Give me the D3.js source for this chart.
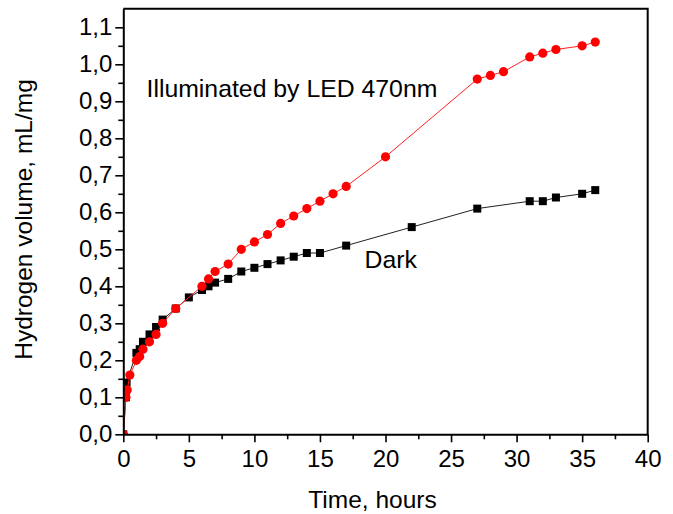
<!DOCTYPE html>
<html>
<head>
<meta charset="utf-8">
<script src="https://cdn.jsdelivr.net/npm/d3@7"></script>
<style>
  html, body { margin: 0; padding: 0; background: #fff; }
  svg { display: block; font-family: "Liberation Sans", Arial, sans-serif; }
</style>
</head>
<body>
<svg id="chart" width="673" height="514"></svg>
<script>
// Hydrogen evolution over time, LED-illuminated vs dark
const litHours  = [0, 0.2, 0.3, 0.5, 1, 1.25, 1.5, 2, 2.5, 3, 4, 6, 6.5, 7, 8, 9, 10, 11, 12, 13, 14, 15, 16, 17, 20, 27, 28, 29, 31, 32, 33, 35, 36];
const litVolume = [0, 0.10, 0.12, 0.16, 0.20, 0.21, 0.23, 0.25, 0.27, 0.30, 0.34, 0.40, 0.42, 0.44, 0.46, 0.50, 0.52, 0.54, 0.57, 0.59, 0.61, 0.63, 0.65, 0.67, 0.75, 0.96, 0.97, 0.98, 1.02, 1.03, 1.04, 1.05, 1.06];

const darkHours  = [0, 0.2, 0.25, 1, 1.25, 1.5, 2, 2.5, 3, 4, 5, 6, 6.5, 7, 8, 9, 10, 11, 12, 13, 14, 15, 17, 22, 27, 31, 32, 33, 35, 36];
const darkVolume = [0, 0.10, 0.14, 0.22, 0.23, 0.25, 0.27, 0.29, 0.31, 0.34, 0.37, 0.39, 0.40, 0.41, 0.42, 0.44, 0.45, 0.46, 0.47, 0.48, 0.49, 0.49, 0.51, 0.56, 0.61, 0.63, 0.63, 0.64, 0.65, 0.66];

const xMajorTicks = [0, 5, 10, 15, 20, 25, 30, 35, 40];
const xMinorTicks = [2.5, 7.5, 12.5, 17.5, 22.5, 27.5, 32.5, 37.5];
const yMajorTicks = [0, 0.1, 0.2, 0.3, 0.4, 0.5, 0.6, 0.7, 0.8, 0.9, 1.0, 1.1];
const yMinorTicks = [0.05, 0.15, 0.25, 0.35, 0.45, 0.55, 0.65, 0.75, 0.85, 0.95, 1.05];

const xTitle = "Time, hours";
const yTitle = "Hydrogen volume, mL/mg";
const litLabel = "Illuminated by LED 470nm";
const darkLabel = "Dark";

const svg = d3.select("#chart");
const plotLeft = 123.3, plotRight = 647.7, plotTop = 8.8, plotBottom = 434.3;

const x = d3.scaleLinear().domain([0, 40]).range([plotLeft, plotRight]);
const y = d3.scaleLinear().domain([0, 1.15]).range([plotBottom, plotTop]);

const fmt = d3.formatLocale({ decimal: ",", thousands: " ", grouping: [3], currency: ["", ""] }).format(".1f");

const lit = litHours.map((t, i) => ({ t, v: litVolume[i] }));
const dark = darkHours.map((t, i) => ({ t, v: darkVolume[i] }));

const line = d3.line().x(d => x(d.t)).y(d => y(d.v));

// Markers are clipped to the plot area
svg.append("defs").append("clipPath").attr("id", "plot-clip")
  .append("rect").attr("x", plotLeft).attr("y", plotTop)
  .attr("width", plotRight - plotLeft).attr("height", plotBottom - plotTop);
const plot = svg.append("g").attr("clip-path", "url(#plot-clip)");

// Dark series: thin line + squares
plot.append("path").datum(dark)
  .attr("d", line).attr("fill", "none")
  .attr("stroke", "#222").attr("stroke-width", 1);
const sq = 8;
plot.append("g").selectAll("rect").data(dark).join("rect")
  .attr("x", d => x(d.t) - sq / 2).attr("y", d => y(d.v) - sq / 2)
  .attr("width", sq).attr("height", sq).attr("fill", "#000");

// Illuminated series: thin red line + circles
plot.append("path").datum(lit)
  .attr("d", line).attr("fill", "none")
  .attr("stroke", "#ff2020").attr("stroke-width", 1);
plot.append("g").selectAll("circle").data(lit).join("circle")
  .attr("cx", d => x(d.t)).attr("cy", d => y(d.v))
  .attr("r", 4.6).attr("fill", "#ff0000");

// Frame (top and right)
svg.append("path")
  .attr("d", `M${plotLeft},${plotTop}H${plotRight}V${plotBottom}`)
  .attr("fill", "none").attr("stroke", "#000").attr("stroke-width", 2);

// X axis
const xAxisG = svg.append("g").attr("transform", `translate(0,${plotBottom})`);
xAxisG.append("g").call(d3.axisBottom(x).tickValues(xMinorTicks).tickSize(5).tickFormat(""))
  .call(g => g.select(".domain").remove());
xAxisG.append("g").call(d3.axisBottom(x).tickValues(xMajorTicks).tickSize(8).tickSizeOuter(0).tickFormat(d3.format("d")))
  .call(g => g.select(".domain").attr("stroke-width", 2))
  .call(g => g.selectAll("text").attr("y", 16).attr("font-size", 24).attr("fill", "#000"));
xAxisG.selectAll("line").attr("stroke", "#000").attr("stroke-width", 1.6);
xAxisG.selectAll("text").attr("font-family", "Liberation Sans, Arial, sans-serif");

// Y axis
const yAxisG = svg.append("g").attr("transform", `translate(${plotLeft},0)`);
yAxisG.append("g").call(d3.axisLeft(y).tickValues(yMinorTicks).tickSize(5).tickFormat(""))
  .call(g => g.select(".domain").remove());
yAxisG.append("g").call(d3.axisLeft(y).tickValues(yMajorTicks).tickSize(8).tickSizeOuter(0).tickFormat(fmt))
  .call(g => g.select(".domain").attr("stroke-width", 2))
  .call(g => g.selectAll("text").attr("x", -11).attr("font-size", 24).attr("fill", "#000"));
yAxisG.selectAll("line").attr("stroke", "#000").attr("stroke-width", 1.6);
yAxisG.selectAll("text").attr("font-family", "Liberation Sans, Arial, sans-serif");

// Axis titles
svg.append("text").attr("x", 372.5).attr("y", 508)
  .attr("text-anchor", "middle").attr("font-size", 24.5).text(xTitle);
svg.append("text").attr("transform", `translate(32,219.5) rotate(-90)`)
  .attr("text-anchor", "middle").attr("font-size", 24.5).text(yTitle);

// Series annotations
svg.append("text").attr("x", 146.5).attr("y", 96.7)
  .attr("font-size", 24.8).text(litLabel);
svg.append("text").attr("x", 364.5).attr("y", 267.7)
  .attr("font-size", 24.8).text(darkLabel);
</script>
</body>
</html>
